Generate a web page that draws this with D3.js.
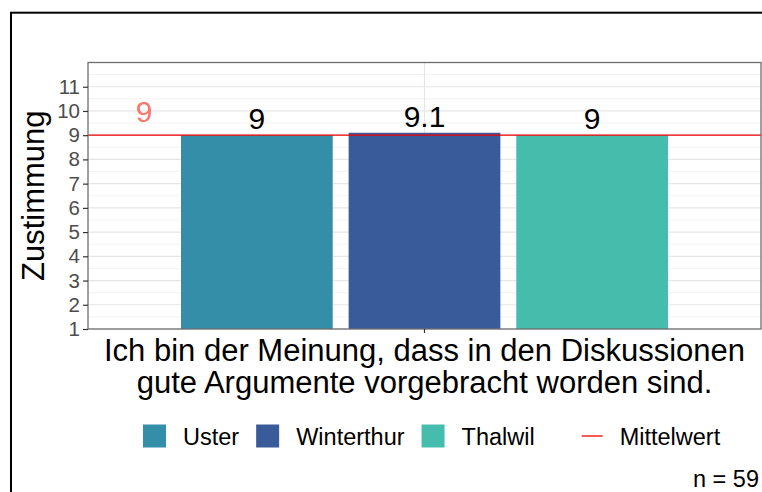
<!DOCTYPE html>
<html>
<head>
<meta charset="utf-8">
<script src="https://cdn.jsdelivr.net/npm/d3@7"></script>
<style>
  body { margin: 0; background: #fff; }
  svg { display: block; font-family: "Liberation Sans", Arial, sans-serif; }
</style>
</head>
<body>
<div id="chart"></div>
<script>
// Data
const categories = ["Uster", "Winterthur", "Thalwil"];
const values = [9, 9.1, 9];
const barColors = ["#358EA8", "#3A5B9A", "#46BDAC"];
const meanValue = 9;
const meanLabelPos = 0.5;          // x position of the mean label (discrete axis units)
const yTicks = [1, 2, 3, 4, 5, 6, 7, 8, 9, 10, 11];
const yMinor = [1.5, 2.5, 3.5, 4.5, 5.5, 6.5, 7.5, 8.5, 9.5, 10.5, 11.5];
const questionLines = ["Ich bin der Meinung, dass in den Diskussionen", "gute Argumente vorgebracht worden sind."];
const yTitle = "Zustimmung";
const meanLegendLabel = "Mittelwert";
const caption = "n = 59";

const W = 762, H = 492;
const margin = {top: 62.5, right: 1, bottom: 163, left: 88};
const width = W - margin.left - margin.right;
const height = H - margin.top - margin.bottom;

const svg = d3.select("#chart").append("svg")
  .attr("width", W)
  .attr("height", H);

// outer frame
svg.append("rect")
  .attr("x", 11).attr("y", 12.7)
  .attr("width", 820).attr("height", 520)
  .attr("fill", "none")
  .attr("stroke", "#000")
  .attr("stroke-width", 2);

const g = svg.append("g")
  .attr("transform", `translate(${margin.left},${margin.top})`);

// Scales
const yScale = d3.scaleLinear().domain([1, 12]).range([height, 0]);
const xLin = d3.scaleLinear().domain([0.4, 1.6]).range([0, width]);
const xOuter = d3.scaleBand().domain(["q"]).range([0, width]).paddingOuter(0.191);
const xInner = d3.scaleBand().domain(categories).range([0, xOuter.bandwidth()]).paddingInner(0.095);

// Grid
g.selectAll(".minor").data(yMinor).enter().append("line")
  .attr("x1", 0).attr("x2", width)
  .attr("y1", d => yScale(d)).attr("y2", d => yScale(d))
  .attr("stroke", "#F2F2F2").attr("stroke-width", 1);
g.selectAll(".major").data(yTicks).enter().append("line")
  .attr("x1", 0).attr("x2", width)
  .attr("y1", d => yScale(d)).attr("y2", d => yScale(d))
  .attr("stroke", "#E6E6E6").attr("stroke-width", 1.2);
g.append("line")
  .attr("x1", xOuter("q") + xOuter.bandwidth() / 2).attr("x2", xOuter("q") + xOuter.bandwidth() / 2)
  .attr("y1", 0).attr("y2", height)
  .attr("stroke", "#E6E6E6").attr("stroke-width", 1.2);

// Bars
g.selectAll(".bar").data(categories).enter().append("rect")
  .attr("x", d => xOuter("q") + xInner(d))
  .attr("width", xInner.bandwidth())
  .attr("y", (d, i) => yScale(values[i]))
  .attr("height", (d, i) => yScale(1) - yScale(values[i]))
  .attr("fill", (d, i) => barColors[i]);

// Bar labels
g.selectAll(".lbl").data(categories).enter().append("text")
  .attr("x", d => xOuter("q") + xInner(d) + xInner.bandwidth() / 2)
  .attr("y", (d, i) => yScale(values[i]) - 6)
  .attr("text-anchor", "middle")
  .attr("font-size", 30)
  .attr("fill", "#000")
  .text((d, i) => String(values[i]));

// Mean line
g.append("line")
  .attr("x1", 0).attr("x2", width)
  .attr("y1", yScale(meanValue)).attr("y2", yScale(meanValue))
  .attr("stroke", "#F00000").attr("stroke-width", 1.3);
g.append("text")
  .attr("x", xLin(meanLabelPos))
  .attr("y", yScale(meanValue) - 13.5)
  .attr("text-anchor", "middle")
  .attr("font-size", 30)
  .attr("fill", "#F8766D")
  .text(String(meanValue));

// Panel border
g.append("rect")
  .attr("x", 0).attr("y", 0)
  .attr("width", width).attr("height", height)
  .attr("fill", "none")
  .attr("stroke", "#6E6E6E").attr("stroke-width", 1.3);

// Y axis
const yAxis = g.append("g")
  .call(d3.axisLeft(yScale).tickValues(yTicks).tickSize(5).tickPadding(3).tickFormat(d3.format("d")));
yAxis.select(".domain").remove();
yAxis.selectAll(".tick line").attr("stroke", "#333").attr("stroke-width", 1.2);
yAxis.selectAll(".tick text")
  .attr("font-size", 20.5)
  .attr("font-family", "Liberation Sans, Arial, sans-serif")
  .attr("fill", "#4D4D4D");

// X axis tick
const xAxis = g.append("g")
  .attr("transform", `translate(0,${height})`)
  .call(d3.axisBottom(xOuter).tickSize(4).tickFormat(""));
xAxis.select(".domain").remove();
xAxis.selectAll(".tick line").attr("stroke", "#333").attr("stroke-width", 1.2);

// x label (question)
const q = g.append("text")
  .attr("text-anchor", "middle")
  .attr("font-size", 31)
  .attr("fill", "#000");
questionLines.forEach((t, i) => {
  q.append("tspan")
    .attr("x", width / 2)
    .attr("y", height + 32 + i * 32)
    .text(t);
});

// Y title
svg.append("text")
  .attr("transform", `translate(44,${margin.top + height / 2})rotate(-90)`)
  .attr("text-anchor", "middle")
  .attr("font-size", 31)
  .attr("fill", "#000")
  .text(yTitle);

// Legend
const legend = svg.append("g").attr("transform", "translate(143,424.5)");
const keySize = 23;
let lx = 0;
categories.forEach((c, i) => {
  legend.append("rect")
    .attr("x", lx).attr("y", 0)
    .attr("width", keySize).attr("height", keySize)
    .attr("fill", barColors[i]);
  const t = legend.append("text")
    .attr("x", lx + keySize + 17)
    .attr("y", keySize / 2 + 8.5)
    .attr("font-size", 23.5)
    .attr("fill", "#000")
    .text(c);
  lx += keySize + 17 + t.node().getComputedTextLength() + 17;
});
lx += 30;
legend.append("line")
  .attr("x1", lx).attr("x2", lx + 21)
  .attr("y1", keySize / 2).attr("y2", keySize / 2)
  .attr("stroke", "#F00000").attr("stroke-width", 1.3);
legend.append("text")
  .attr("x", lx + 38)
  .attr("y", keySize / 2 + 8.5)
  .attr("font-size", 23.5)
  .attr("fill", "#000")
  .text(meanLegendLabel);

// Caption
svg.append("text")
  .attr("x", 759).attr("y", 487)
  .attr("text-anchor", "end")
  .attr("font-size", 23.5)
  .attr("fill", "#000")
  .text(caption);
</script>
</body>
</html>
